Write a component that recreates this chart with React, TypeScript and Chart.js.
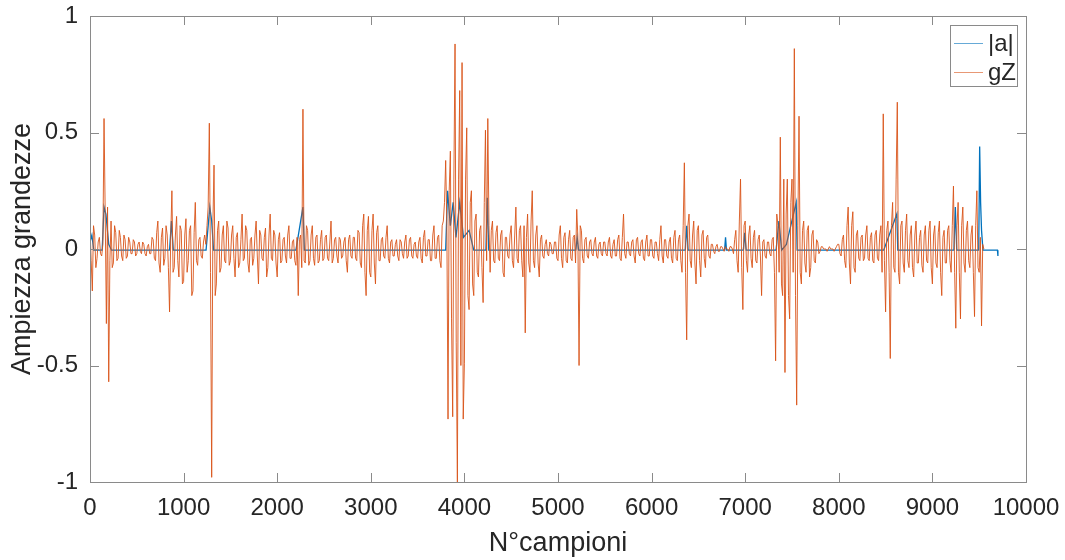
import React, { useEffect, useRef } from "react";
import { Chart, registerables } from "chart.js";

Chart.register(...registerables);

// ---- data ----
const SAMPLE_STEP = 12.5; // gZ read every 12.5 samples
const gZ: number[] = [
  // 0 - 487.5
  0.09, -0.05, -0.18, 0.1, 0.06, -0.08, -0.04, 0.03, 0.05, -0.02, -0.03, 0.02, 0.56, 0.15, -0.32, 0.18, -0.57, -0.05, 0.12, -0.08,
  -0.06, 0.1, 0.07, -0.05, -0.04, 0.08, 0.05, -0.03, -0.05, 0.06, 0.04, -0.04, -0.03, 0.05, 0.03, -0.02, -0.02, 0.04, 0.03, -0.03,
  // 500 - 987.5
  -0.02, 0.02, 0.03, -0.01, -0.02, 0.03, 0.02, -0.02, -0.03, 0.01, 0.02, -0.02, -0.02, 0.05, 0.04, -0.04, -0.05, 0.07, 0.12, -0.06,
  -0.1, 0.05, 0.09, -0.07, -0.04, 0.1, 0.06, -0.08, -0.27, 0.05, 0.25, -0.1, -0.08, 0.06, 0.14, -0.05, -0.12, 0.1, 0.08, -0.15,
  // 1000 - 1487.5
  -0.14, 0.06, 0.13, -0.1, -0.05, 0.08, 0.1, -0.2, -0.18, 0.07, 0.2, -0.05, -0.07, 0.04, 0.05, -0.03, -0.04, 0.03, 0.06, 0.02,
  0.1, 0.18, 0.54, -0.1, -0.98, 0.1, 0.36, -0.2, -0.15, 0.08, 0.12, -0.1, -0.08, 0.06, 0.1, -0.05, -0.06, 0.12, 0.09, -0.07,
  // 1500 - 1987.5
  -0.05, 0.06, 0.1, -0.04, -0.12, 0.05, 0.07, -0.08, -0.06, 0.04, 0.15, -0.05, -0.04, 0.1, 0.08, -0.06, -0.1, 0.04, 0.05, -0.07,
  -0.04, 0.06, 0.12, -0.03, -0.15, 0.08, 0.06, -0.04, -0.05, 0.05, 0.09, -0.12, -0.08, 0.06, 0.15, -0.04, -0.05, 0.08, 0.06, -0.06,
  // 2000 - 2487.5
  -0.12, 0.04, 0.07, -0.06, -0.05, 0.04, 0.05, -0.03, -0.06, 0.06, 0.1, -0.04, -0.04, 0.03, 0.04, -0.05, -0.07, 0.05, -0.2, 0.04,
  0.06, -0.08, 0.6, -0.05, -0.06, 0.1, 0.08, -0.07, -0.05, 0.06, 0.1, -0.04, -0.07, 0.05, 0.06, -0.06, -0.05, 0.04, 0.08, -0.05,
  // 2500 - 2987.5
  -0.04, 0.05, 0.06, -0.04, -0.05, 0.03, 0.12, -0.06, -0.04, 0.04, 0.05, -0.03, -0.06, 0.05, 0.04, -0.04, -0.03, 0.03, 0.05, -0.05,
  -0.1, 0.04, 0.06, -0.03, -0.04, 0.05, 0.05, -0.04, -0.05, 0.08, 0.07, -0.06, -0.08, 0.1, 0.15, -0.1, -0.2, 0.08, 0.14, -0.1,
  // 3000 - 3487.5
  -0.12, 0.08, 0.15, -0.06, -0.15, 0.07, 0.1, -0.05, -0.05, 0.04, 0.05, -0.03, -0.04, 0.05, 0.1, -0.04, -0.06, 0.03, 0.04, -0.03,
  -0.03, 0.02, 0.04, -0.03, -0.05, 0.04, 0.03, -0.02, -0.04, 0.03, 0.06, -0.04, -0.03, 0.04, 0.05, -0.03, -0.04, 0.02, 0.03, -0.03,
  // 3500 - 3987.5
  -0.04, 0.03, 0.05, -0.04, -0.06, 0.05, 0.08, -0.03, -0.03, 0.04, 0.04, -0.05, -0.05, 0.06, 0.1, -0.04, -0.04, 0.05, 0.06, -0.05,
  -0.08, 0.1, 0.12, 0.2, 0.38, 0.1, -0.73, 0.25, 0.42, -0.3, -0.72, 0.3, 0.88, -0.4, -1.0, 0.3, 0.68, -0.5, 0.8, -0.73,
  // 4000 - 4487.5
  -0.49, 0.3, 0.52, -0.2, -0.26, 0.2, 0.25, -0.15, -0.2, 0.12, 0.15, -0.1, -0.12, 0.08, 0.1, -0.08, -0.23, 0.2, 0.51, -0.05,
  0.56, 0.1, -0.1, 0.08, 0.12, -0.05, -0.06, 0.07, 0.1, -0.04, -0.05, 0.06, 0.08, -0.1, -0.12, 0.05, 0.05, -0.03, -0.04, 0.06,
  // 4500 - 4987.5
  0.1, -0.05, -0.08, 0.06, 0.18, -0.04, -0.06, 0.08, 0.1, -0.05, -0.12, 0.1, -0.36, 0.05, 0.15, -0.06, -0.1, 0.12, 0.25, -0.05,
  -0.08, 0.06, 0.1, -0.06, -0.12, 0.04, 0.06, -0.03, -0.04, 0.02, 0.04, -0.02, -0.03, 0.03, 0.02, -0.02, -0.02, 0.03, 0.03, -0.04,
  // 5000 - 5487.5
  -0.05, 0.06, 0.1, -0.04, -0.08, 0.05, 0.07, -0.05, -0.06, 0.04, 0.08, -0.04, -0.05, 0.05, 0.06, -0.06, 0.17, 0.05, -0.5, 0.1,
  0.08, -0.04, -0.06, 0.04, 0.05, -0.03, -0.04, 0.03, 0.04, -0.02, -0.03, 0.03, 0.05, -0.03, -0.04, 0.02, 0.03, -0.02, -0.03, 0.03,
  // 5500 - 5987.5
  0.03, -0.02, -0.03, 0.03, 0.05, -0.03, -0.04, 0.02, 0.04, -0.03, -0.03, 0.04, 0.06, -0.04, -0.05, 0.05, 0.15, -0.02, -0.04, 0.03,
  0.03, -0.02, -0.03, 0.03, 0.04, -0.03, -0.06, 0.04, 0.05, -0.02, -0.03, 0.03, 0.04, -0.04, -0.05, 0.03, 0.06, -0.03, -0.03, 0.04,
  // 6000 - 6487.5
  0.04, -0.03, -0.04, 0.03, 0.03, -0.02, -0.05, 0.04, 0.1, -0.03, -0.06, 0.04, 0.04, -0.03, -0.04, 0.03, 0.05, -0.04, -0.06, 0.05,
  0.08, -0.04, -0.05, 0.04, 0.06, -0.05, -0.1, 0.1, 0.37, -0.1, -0.39, 0.1, 0.15, -0.05, -0.08, 0.06, 0.12, -0.06, -0.15, 0.08,
  // 6500 - 6987.5
  0.1, -0.05, -0.12, 0.06, 0.08, -0.04, -0.08, 0.05, 0.06, -0.03, -0.04, 0.02, 0.02, -0.01, -0.02, 0.01, 0.02, -0.01, -0.01, 0.01,
  0.01, 0.0, -0.01, 0.01, 0.0, 0.0, -0.01, 0.01, 0.01, 0.0, -0.02, 0.04, 0.08, -0.05, -0.1, 0.12, 0.3, -0.08, -0.26, 0.1,
  // 7000 - 7487.5
  0.12, -0.05, -0.1, 0.06, 0.1, -0.04, -0.08, 0.05, 0.08, -0.05, -0.06, 0.04, 0.06, -0.03, -0.2, 0.03, 0.04, -0.03, -0.04, 0.03,
  0.03, -0.02, -0.03, 0.04, 0.05, -0.1, -0.48, 0.15, 0.1, -0.1, 0.48, -0.15, -0.2, 0.3, -0.53, 0.15, 0.3, -0.2, -0.3, 0.2,
  // 7500 - 7987.5
  0.3, -0.1, 0.86, -0.2, -0.67, 0.1, 0.57, -0.1, -0.15, 0.08, 0.12, -0.06, -0.1, 0.08, 0.1, -0.12, -0.08, 0.06, 0.08, -0.05,
  -0.06, 0.04, 0.03, -0.02, -0.01, 0.01, 0.01, 0.0, 0.0, 0.0, -0.01, 0.0, 0.01, 0.0, 0.0, 0.0, -0.01, 0.0, 0.01, 0.02,
  // 8000 - 8487.5
  0.02, -0.02, -0.03, 0.04, 0.06, -0.05, -0.08, 0.1, 0.18, -0.06, -0.15, 0.1, 0.16, -0.08, -0.1, 0.06, 0.08, -0.04, -0.05, 0.05,
  0.06, -0.05, -0.04, 0.06, 0.1, -0.04, -0.05, 0.05, 0.07, -0.05, -0.06, 0.06, 0.08, -0.04, -0.05, 0.06, 0.1, -0.1, 0.58, -0.05,
  // 8500 - 8987.5
  -0.27, 0.08, 0.12, -0.1, -0.47, 0.1, 0.2, -0.08, -0.1, 0.3, 0.63, -0.1, -0.15, 0.1, 0.12, -0.06, -0.1, 0.08, 0.15, -0.05,
  -0.08, 0.06, 0.1, -0.08, -0.12, 0.06, 0.12, -0.06, -0.06, 0.05, 0.08, -0.07, -0.1, 0.06, 0.1, -0.05, -0.06, 0.08, 0.12, -0.08,
  // 9000 - 9487.5
  -0.15, 0.06, 0.1, -0.06, -0.08, 0.07, 0.12, -0.1, -0.2, 0.05, 0.08, -0.06, -0.06, 0.08, 0.1, -0.05, -0.1, 0.1, 0.27, -0.1,
  -0.34, 0.1, 0.2, -0.1, -0.3, 0.1, 0.18, -0.06, -0.1, 0.08, 0.12, -0.05, -0.08, 0.06, 0.1, -0.1, -0.29, 0.1, 0.25, -0.08,
  // 9500 - 9550
  -0.1, 0.05, -0.33, 0.02, 0.0,
];

const aX: number[] = [
  0, 20, 40, 130, 150, 170, 200, 230, 850, 870, 890, 1240, 1280, 1300, 1320,
  2200, 2275, 2290, 3800, 3820, 3850, 3880, 3910, 3950, 3990, 4050, 4100,
  4230, 4245, 4260, 5190, 5205, 5220, 6360, 6375, 6390, 6780, 6790, 6800,
  6980, 6995, 7010, 7330, 7360, 7390, 7440, 7545, 7555, 8480, 8620, 8630,
  9230, 9245, 9260, 9495, 9505, 9515, 9525, 9540, 9695, 9700,
];
const aY: number[] = [
  0.03, 0.06, -0.005, -0.005, 0.18, 0.15, 0.02, -0.005, -0.005, 0.12, -0.005, -0.005, 0.18, 0.12, -0.005,
  -0.005, 0.18, -0.005, -0.005, 0.25, 0.1, 0.2, 0.05, 0.2, 0.05, 0.08, -0.005,
  -0.005, 0.22, -0.005, -0.005, 0.05, -0.005, -0.005, 0.1, -0.005, -0.005, 0.05, -0.005,
  -0.005, 0.07, -0.005, -0.005, 0.12, -0.005, 0.02, 0.2, -0.005, -0.005, 0.15, -0.005,
  -0.005, 0.18, -0.005, -0.005, 0.44, 0.2, 0.08, -0.005, -0.005, -0.03,
];

const seriesNames = ["|a|", "gZ"];
const seriesColors = ["#0072BD", "#D95319"];
const xTicks = [0, 1000, 2000, 3000, 4000, 5000, 6000, 7000, 8000, 9000, 10000];
const yTicks = [-1, -0.5, 0, 0.5, 1];
const xTitle = "N°campioni";
const yTitle = "Ampiezza grandezze";

const FONT = '"Liberation Sans", Arial, sans-serif';
const AXIS_COLOR = "#8a8a8a";
const TEXT_COLOR = "#262626";

const matlabAxes = {
  id: "matlabAxes",
  afterDatasetsDraw(chart: any) {
    const { ctx, chartArea: ca, scales } = chart;
    const xs = scales.x;
    const ys = scales.y;
    const tl = 9;
    ctx.save();
    ctx.strokeStyle = AXIS_COLOR;
    ctx.lineWidth = 1;
    ctx.beginPath();
    for (const v of xTicks) {
      const px = Math.round(xs.getPixelForValue(v)) + 0.5;
      ctx.moveTo(px, ca.bottom);
      ctx.lineTo(px, ca.bottom - tl);
      ctx.moveTo(px, ca.top);
      ctx.lineTo(px, ca.top + tl);
    }
    for (const v of yTicks) {
      const py = Math.round(ys.getPixelForValue(v)) + 0.5;
      ctx.moveTo(ca.left, py);
      ctx.lineTo(ca.left + tl, py);
      ctx.moveTo(ca.right, py);
      ctx.lineTo(ca.right - tl, py);
    }
    ctx.stroke();
    ctx.strokeRect(Math.round(ca.left) + 0.5, Math.round(ca.top) + 0.5, Math.round(ca.right - ca.left), Math.round(ca.bottom - ca.top));

    // legend (MATLAB style, inside top-right)
    const bw = 67;
    const bh = 61;
    const bx = Math.round(ca.right) - 9 - bw;
    const by = Math.round(ca.top) + 9;
    ctx.fillStyle = "#ffffff";
    ctx.fillRect(bx, by, bw, bh);
    ctx.strokeStyle = "#8a8a8a";
    ctx.strokeRect(bx + 0.5, by + 0.5, bw, bh);
    ctx.font = `24px ${FONT}`;
    ctx.textBaseline = "middle";
    ctx.textAlign = "left";
    seriesNames.forEach((name, i) => {
      const cy = by + 18 + i * 29;
      ctx.strokeStyle = seriesColors[i];
      ctx.globalAlpha = 0.6;
      ctx.lineWidth = 1;
      ctx.beginPath();
      ctx.moveTo(bx + 4, cy + 0.5);
      ctx.lineTo(bx + 33, cy + 0.5);
      ctx.stroke();
      ctx.globalAlpha = 1;
      ctx.fillStyle = TEXT_COLOR;
      ctx.fillText(name, bx + 38, cy + 1);
    });
    ctx.restore();
  },
};

export default function App() {
  const ref = useRef<HTMLCanvasElement | null>(null);

  useEffect(() => {
    document.body.style.margin = "0";
    const canvas = ref.current;
    if (!canvas) return;
    const gzData = gZ.map((v, i) => ({ x: i * SAMPLE_STEP, y: v }));
    const aData = aX.map((x, i) => ({ x, y: aY[i] }));

    const chart = new Chart(canvas, {
      type: "line",
      data: {
        datasets: [
          {
            label: seriesNames[0],
            data: aData,
            borderColor: seriesColors[0],
            borderWidth: 1.3,
            pointRadius: 0,
            tension: 0,
            order: 2,
          },
          {
            label: seriesNames[1],
            data: gzData,
            borderColor: seriesColors[1],
            borderWidth: 0.9,
            pointRadius: 0,
            tension: 0,
            order: 1,
          },
        ],
      },
      options: {
        responsive: false,
        animation: false,
        layout: { padding: { top: 16, right: 39, left: 0, bottom: 0 } },
        plugins: {
          legend: { display: false },
          tooltip: { enabled: false },
        },
        scales: {
          x: {
            type: "linear",
            min: 0,
            max: 10000,
            afterBuildTicks(scale: any) {
              scale.ticks = xTicks.map((v) => ({ value: v }));
            },
            afterFit(scale: any) {
              scale.height = 78;
              scale.paddingLeft = 0;
              scale.paddingRight = 0;
            },
            grid: { display: false, drawTicks: false },
            border: { display: false },
            ticks: {
              padding: 12,
              color: TEXT_COLOR,
              font: { family: FONT, size: 24 },
              maxRotation: 0,
              autoSkip: false,
              callback: (v: any) => String(v),
            },
            title: {
              display: true,
              text: xTitle,
              color: TEXT_COLOR,
              font: { family: FONT, size: 27 },
              padding: { top: 0, bottom: 0 },
            },
          },
          y: {
            type: "linear",
            min: -1,
            max: 1,
            afterBuildTicks(scale: any) {
              scale.ticks = yTicks.map((v) => ({ value: v }));
            },
            afterFit(scale: any) {
              scale.width = 90;
              scale.paddingTop = 0;
              scale.paddingBottom = 0;
            },
            grid: { display: false, drawTicks: false },
            border: { display: false },
            ticks: {
              padding: 12,
              color: TEXT_COLOR,
              font: { family: FONT, size: 24 },
              autoSkip: false,
              callback: (v: any) => String(v),
            },
            title: {
              display: true,
              text: yTitle,
              color: TEXT_COLOR,
              font: { family: FONT, size: 27 },
              padding: { top: 6, bottom: 0 },
            },
          },
        },
      },
      plugins: [matlabAxes],
    });
    return () => chart.destroy();
  }, []);

  return (
    <div style={{ position: "absolute", left: 0, top: 0, width: 1065, height: 560, background: "#fff" }}>
      <canvas ref={ref} width={1065} height={560} style={{ display: "block" }} />
    </div>
  );
}
